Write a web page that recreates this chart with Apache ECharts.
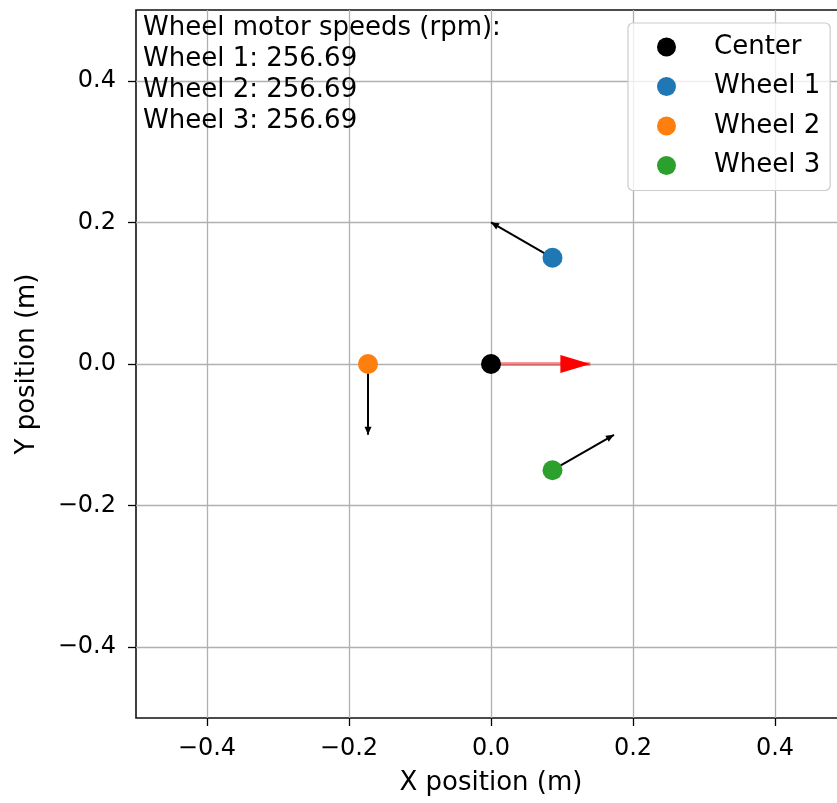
<!DOCTYPE html>
<html>
<head>
<meta charset="utf-8">
<script src="https://cdn.jsdelivr.net/npm/echarts@6/dist/echarts.min.js"></script>
<style>
  html, body { margin: 0; padding: 0; background: #fff; }
  #chart { width: 837px; height: 803px; }
</style>
</head>
<body>
<div id="chart"></div>
<script>
// robot geometry (m)
const centerPos = [0, 0];
const wheelNames = ['Wheel 1', 'Wheel 2', 'Wheel 3'];
const wheelColors = ['#1f77b4', '#ff7f0e', '#2ca02c'];
const wheelX = [0.0866, -0.1732, 0.0866];
const wheelY = [0.15, 0.0, -0.15];
// wheel drive vectors
const wheelVx = [-0.0866, 0.0, 0.0866];
const wheelVy = [0.05, -0.1, 0.05];
// body velocity arrow
const bodyVel = [0.14, 0.0];
const wheelRpm = [256.69, 256.69, 256.69];
const xTicks = [-0.4, -0.2, 0.0, 0.2, 0.4];
const yTicks = [-0.4, -0.2, 0.0, 0.2, 0.4];

const FONT = 'DejaVu Sans';
// triangle head whose tip is at the symbol centre (extra moveTo widens the box)
const HEAD = 'path://M0,-20 M0,0 L10,20 L-10,20 Z';

function fmt(v) {
  const s = Math.abs(v).toFixed(1);
  return v < -1e-9 ? '\u2212' + s : s;
}

const infoText = ['Wheel motor speeds (rpm):']
  .concat(wheelNames.map((n, i) => n + ': ' + wheelRpm[i].toFixed(2)))
  .join('\n');

const series = [];

// wheel arrows; symbolSize is [from, to], to = [width, 2 * head length]
series.push({
  type: 'lines',
  coordinateSystem: 'cartesian2d',
  z: 2,
  silent: true,
  symbol: ['none', HEAD],
  symbolSize: [0, [7, 16]],
  lineStyle: { color: '#000', width: 2, opacity: 1 },
  data: wheelX.map((x, i) => ({
    coords: [[x, wheelY[i]], [x + wheelVx[i], wheelY[i] + wheelVy[i]]]
  }))
});

const bodyEnd = [centerPos[0] + bodyVel[0], centerPos[1] + bodyVel[1]];

// body velocity shaft
series.push({
  type: 'lines',
  coordinateSystem: 'cartesian2d',
  z: 2,
  silent: true,
  symbol: ['none', 'none'],
  lineStyle: { color: '#ff0000', width: 4, opacity: 0.4 },
  data: [{ coords: [centerPos, bodyEnd] }]
});
// body velocity head
series.push({
  type: 'lines',
  coordinateSystem: 'cartesian2d',
  z: 3,
  silent: true,
  symbol: ['none', HEAD],
  symbolSize: [0, [18, 60]],
  lineStyle: { color: '#ff0000', width: 0, opacity: 1 },
  data: [{ coords: [centerPos, bodyEnd] }]
});

series.push({
  name: 'Center',
  type: 'scatter',
  z: 5,
  symbol: 'circle',
  symbolSize: 20,
  itemStyle: { color: '#000', opacity: 1 },
  data: [centerPos]
});

wheelNames.forEach((n, i) => {
  series.push({
    name: n,
    type: 'scatter',
    z: 5,
    symbol: 'circle',
    symbolSize: 20,
    itemStyle: { color: wheelColors[i], opacity: 1 },
    data: [[wheelX[i], wheelY[i]]]
  });
});

const chart = echarts.init(document.getElementById('chart'));
chart.setOption({
  animation: false,
  backgroundColor: '#fff',
  textStyle: { fontFamily: FONT },
  grid: {
    left: 136, top: 10, width: 710, height: 708,
    outerBoundsMode: 'none',
    show: true, borderColor: '#111', borderWidth: 1.6, backgroundColor: '#fff'
  },
  title: {
    text: infoText,
    left: 143, top: 13,
    padding: 0,
    textStyle: { fontFamily: FONT, fontSize: 26, fontWeight: 'normal', color: '#000', lineHeight: 31 }
  },
  legend: {
    orient: 'vertical',
    left: 628, top: 23,
    padding: [9, 10, 10, 29],
    itemGap: 9.5,
    itemWidth: 19, itemHeight: 19,
    icon: 'circle',
    backgroundColor: 'rgba(255,255,255,0.8)',
    borderColor: '#cccccc', borderWidth: 1.2, borderRadius: 5,
    data: ['Center'].concat(wheelNames),
    textStyle: { fontFamily: FONT, fontSize: 26, lineHeight: 30, color: '#000', padding: [0, 0, 0, 33] }
  },
  xAxis: {
    type: 'value',
    min: -0.5, max: 0.5,
    name: 'X position (m)',
    nameLocation: 'middle',
    nameGap: 52,
    nameTextStyle: { fontFamily: FONT, fontSize: 26, color: '#000' },
    axisLine: { show: false, onZero: false },
    axisTick: { show: true, inside: false, length: 8, customValues: xTicks, lineStyle: { color: '#000', width: 1.3 } },
    axisLabel: { customValues: xTicks, formatter: fmt, margin: 19, fontFamily: FONT, fontSize: 24, color: '#000' },
    splitLine: { show: true, lineStyle: { color: '#b0b0b0', width: 1.3 } }
  },
  yAxis: {
    type: 'value',
    min: -0.5, max: 0.5,
    name: 'Y position (m)',
    nameLocation: 'middle',
    nameGap: 96,
    nameRotate: 90,
    nameTextStyle: { fontFamily: FONT, fontSize: 26, color: '#000' },
    axisLine: { show: false, onZero: false },
    axisTick: { show: true, inside: false, length: 8, customValues: yTicks, lineStyle: { color: '#000', width: 1.3 } },
    axisLabel: { customValues: yTicks, formatter: fmt, margin: 20, fontFamily: FONT, fontSize: 24, color: '#000' },
    splitLine: { show: true, lineStyle: { color: '#b0b0b0', width: 1.3 } }
  },
  series: series
});
</script>
</body>
</html>
